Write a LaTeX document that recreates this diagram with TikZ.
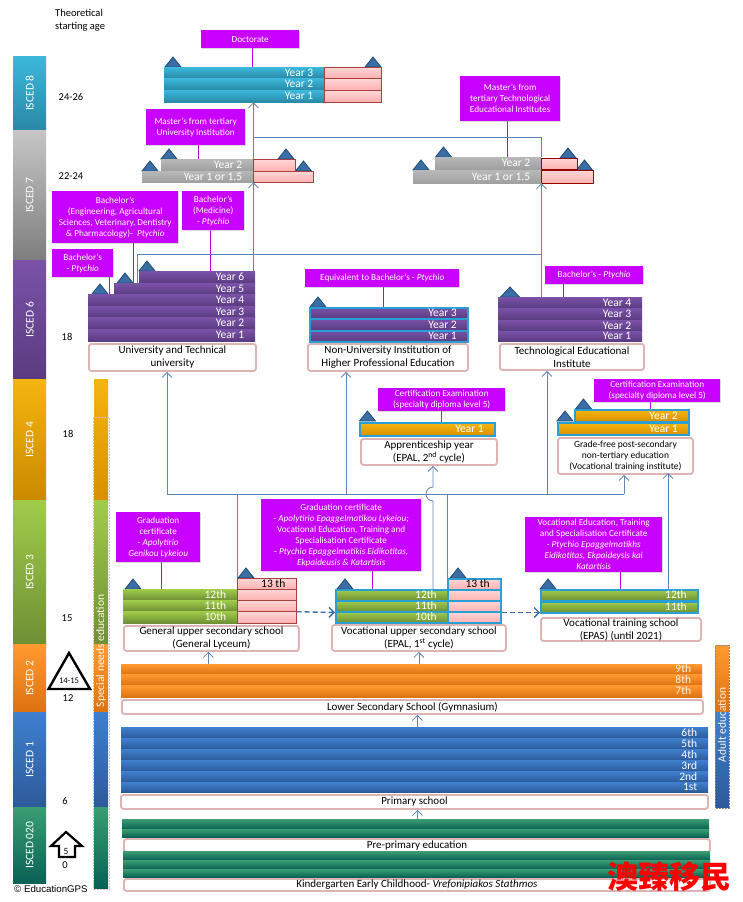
\documentclass[tikz,border=0pt]{standalone}
\usepackage{fontspec}
\usepackage{graphicx}
\usepackage{tikz}
\usetikzlibrary{arrows.meta,shadows}
\setmainfont{Carlito}
\newfontfamily\cjkfont{Noto Sans CJK SC}
\newfontfamily\gpsfont{Liberation Sans}
\definecolor{certmagenta}{HTML}{C800FF}
\definecolor{certstem}{HTML}{C000E8}
\definecolor{flowblue}{HTML}{5F85B8}
\definecolor{flowdeep}{HTML}{3D6AA8}
\definecolor{labelpink}{HTML}{DDB3B3}
\definecolor{outlineblue}{HTML}{2A9FD6}
\definecolor{capedge}{HTML}{1F4E79}
\definecolor{capinner}{HTML}{3A6EA5}
\definecolor{tealhi}{HTML}{3BB8DC}
\definecolor{teallo}{HTML}{2A88A6}
\definecolor{grayhi}{HTML}{C6C6C6}
\definecolor{graylo}{HTML}{7E7E7E}
\definecolor{graybarhi}{HTML}{B8B8B8}
\definecolor{graybarlo}{HTML}{A0A0A0}
\definecolor{plumhi}{HTML}{7A52A8}
\definecolor{plumlo}{HTML}{5A3B80}
\definecolor{amberhi}{HTML}{F5B50F}
\definecolor{amberlo}{HTML}{C98A00}
\definecolor{amberbarlo}{HTML}{D89000}
\definecolor{leafhi}{HTML}{A0CC4A}
\definecolor{leaflo}{HTML}{6F8F35}
\definecolor{tanhi}{HTML}{FF9A30}
\definecolor{tanlo}{HTML}{DC7210}
\definecolor{skyhi}{HTML}{3F80CF}
\definecolor{skylo}{HTML}{2D5A99}
\definecolor{pinehi}{HTML}{3A9E72}
\definecolor{pinelo}{HTML}{0A6055}
\definecolor{rosehi}{HTML}{FFD6D6}
\definecolor{roselo}{HTML}{FFB0B0}
\definecolor{roseedge}{HTML}{A84040}
\definecolor{rosedeep}{HTML}{990000}
\definecolor{needsedge}{HTML}{E0BCBC}
\definecolor{adultedge}{HTML}{8A8A70}
\tikzset{
    schoolbar/.style={inner sep=0pt,text=white,font=\fontsize{11.5}{11}\selectfont,text height=7pt,text depth=0pt},
    purplebar/.style={schoolbar,top color=plumhi,bottom color=plumlo},
    tealbar/.style={schoolbar,top color=tealhi,bottom color=teallo},
    graybar/.style={schoolbar,top color=graybarhi,bottom color=graybarlo},
    amberbar/.style={schoolbar,top color=amberhi,bottom color=amberbarlo},
    greenbar/.style={schoolbar,top color=leafhi,bottom color=leaflo},
    orangebar/.style={schoolbar,text=white!90!orange,top color=tanhi,bottom color=tanlo},
    bluebar/.style={schoolbar,top color=skyhi,bottom color=skylo},
    forestbar/.style={schoolbar,top color=pinehi,bottom color=pinelo},
    pinkbar/.style={schoolbar,text=black,top color=rosehi,bottom color=roselo,draw=roseedge,line width=0.7pt},
    deeppink/.style={pinkbar,draw=rosedeep,line width=1pt},
    cyanedge/.style={draw=outlineblue,line width=1.5pt},
    isced/.style={inner sep=0pt,text=white,font=\fontsize{11.5}{11}\selectfont},
    cert/.style={inner sep=0pt,align=center,fill=certmagenta,text=white,font=\fontsize{9.2}{11}\selectfont,
        drop shadow={shadow xshift=1pt,shadow yshift=-1pt,opacity=0.3}},
    schoollabel/.style={inner sep=0pt,align=center,fill=white,draw=labelpink,line width=1.9pt,rounded corners=2.5pt,
        font=\fontsize{11}{13}\selectfont},
    certline/.style={draw=certstem,line width=0.9pt},
    flow/.style={draw=flowblue,line width=0.8pt,>={Straight Barb[length=5pt,width=10pt]}},
    flowdash/.style={draw=flowdeep,line width=1.4pt,dash pattern=on 5pt off 3pt,>={Straight Barb[length=5pt,width=10pt]}},
    capfill/.style={draw=capedge,fill=capinner,line width=0.8pt},
    agetext/.style={inner sep=0pt,font=\fontsize{10.5}{13}\selectfont},
    sidetext/.style={inner sep=0pt,rotate=90,text=white!92!orange,font=\fontsize{11.5}{11}\selectfont},
    sideframe/.style={inner sep=0pt,draw=#1,line width=1.3pt,dash pattern=on 2pt off 1pt}
}
\newcommand{\placebox}[7]{%
    \pgfmathsetmacro\boxw{#5-#3}\pgfmathsetmacro\boxh{#6-#4}%
    \node[#1,anchor=north west,minimum width=\boxw pt,minimum height=\boxh pt] (#2) at (#3,#4) {#7};}
\newcommand{\placebar}[7]{%
    \pgfmathsetmacro\boxw{#5-#3}\pgfmathsetmacro\boxh{#6-#4}%
    \node[#1,anchor=north west,minimum width=\boxw pt,minimum height=\boxh pt,text width=\boxw pt,align=flush right] (#2) at (#3,#4) {#7\hspace*{11pt}};}
\newcommand{\captri}[3][8]{\draw[capfill] (#2-#1,#3) -- (#2,#3-10) -- (#2+#1,#3) -- cycle;}
\begin{document}
\begin{tikzpicture}[x=1pt,y=-1pt]
        \useasboundingbox (0,0) rectangle (743,902);
        % ISCED column
        \placebox{isced,top color=tealhi,bottom color=teallo}{isced8}{13}{56}{46}{130}{\rotatebox{90}{ISCED 8}}
        \placebox{isced,top color=grayhi,bottom color=graylo}{isced7}{13}{130}{46}{260}{\rotatebox{90}{ISCED 7}}
        \placebox{isced,top color=plumhi,bottom color=plumlo}{isced6}{13}{260}{46}{379}{\rotatebox{90}{ISCED 6}}
        \placebox{isced,top color=amberhi,bottom color=amberlo}{isced4}{13}{379}{46}{500}{\rotatebox{90}{ISCED 4}}
        \placebox{isced,top color=leafhi,bottom color=leaflo}{isced3}{13}{500}{46}{644}{\rotatebox{90}{ISCED 3}}
        \placebox{isced,top color=tanhi,bottom color=tanlo}{isced2}{13}{644}{46}{712}{\rotatebox{90}{ISCED 2}}
        \placebox{isced,top color=skyhi,bottom color=skylo}{isced1}{13}{712}{46}{807}{\rotatebox{90}{ISCED 1}}
        \placebox{isced,top color=pinehi,bottom color=pinelo}{isced020}{13}{807}{46}{883}{\rotatebox{90}{ISCED 020}}
        % Ages
        \node[agetext,anchor=north west,align=left] (agehead) at (55,9) {Theoretical\\starting age};
        \node[agetext] (age8) at (71,97) {24-26};
        \node[agetext] (age7) at (71,176) {22-24};
        \node[agetext] (age6) at (67,337) {18};
        \node[agetext] (age4) at (68,434) {18};
        \node[agetext] (age3) at (67,618) {15};
        \node[agetext] (age2) at (68,698) {12};
        \node[agetext] (age1) at (65,801) {6};
        \node[agetext] (age0) at (65,865) {0};
        \draw[line width=2.4pt] (69,653) -- (48.5,689) -- (90,689) -- cycle;
        \node[agetext,font=\fontsize{8.5}{9}\selectfont] (age1415) at (69,681) {14-15};
        \draw[line width=2.2pt] (66,832) -- (51,846) -- (59,846) -- (59,857) -- (75,857) -- (75,846) -- (82,846) -- cycle;
        \node[agetext,font=\fontsize{9.5}{9}\selectfont] (age5) at (66,851) {5};
        \node[inner sep=0pt,anchor=west,font=\gpsfont\fontsize{9.7}{10}\selectfont] (gps) at (14,889) {© EducationGPS};
        % Special needs bar
        \placebox{inner sep=0pt,top color=amberhi,bottom color=amberbarlo}{needs4}{94}{379}{108}{500}{}
        \placebox{inner sep=0pt,top color=leafhi,bottom color=leaflo}{needs3}{94}{500}{108}{644}{}
        \placebox{inner sep=0pt,top color=tanhi,bottom color=tanlo}{needs2}{94}{644}{108}{712}{}
        \placebox{inner sep=0pt,top color=skyhi,bottom color=skylo}{needs1}{94}{712}{108}{807}{}
        \placebox{inner sep=0pt,top color=pinehi,bottom color=pinelo}{needs0}{94}{807}{108}{888}{}
        \placebox{sideframe=needsedge}{needsframe}{93}{417}{109}{889}{}
        \node[sidetext] (needstext) at (101,651) {Special needs education};
        % Adult bar
        \placebox{inner sep=0pt,top color=tanhi,bottom color=tanlo}{adult2}{715}{645}{729}{712}{}
        \placebox{inner sep=0pt,top color=skyhi,bottom color=skylo}{adult1}{715}{712}{729}{807}{}
        \placebox{sideframe=adultedge}{adultframe}{715}{645}{729}{808}{}
        \node[sidetext] (adulttext) at (722,725) {Adult education};
        % Doctorate
        \captri{173}{67} \captri{373}{67}
        \placebar{tealbar}{phd3}{164}{67}{324}{78}{Year 3}
        \placebar{tealbar}{phd2}{164}{78}{324}{90}{Year 2}
        \placebar{tealbar}{phd1}{164}{90}{324}{102}{Year 1}
        \placebox{pinkbar}{phdp3}{324}{67}{381}{78}{}
        \placebox{pinkbar}{phdp2}{324}{78}{381}{90}{}
        \placebox{pinkbar}{phdp1}{324}{90}{381}{102}{}
        \placebox{cert}{phdbox}{201}{30}{299}{48}{Doctorate}
        \draw[certline] ([xshift=2.5pt]phdbox.south) -- ([xshift=2.5pt]phdbox.south |- phd3.north);
        % Master university
        \captri{169}{159} \captri{150}{171} \captri{286}{159} \captri{303.5}{171}
        \placebar{graybar}{um2}{161}{159}{253}{170}{Year 2}
        \placebar{graybar}{um1}{142}{171}{253}{182}{Year 1 or 1.5}
        \placebox{pinkbar}{ump2}{253}{159}{295}{171}{}
        \placebox{pinkbar}{ump1}{253}{171}{313}{182}{}
        \placebox{cert}{umbox}{146}{109}{245}{145}{Master’s from tertiary\\University Institution}
        \draw[certline] ([xshift=3pt]umbox.south) -- ([xshift=3pt]umbox.south |- um2.north);
        % Master technological
        \captri{443.5}{157} \captri{421}{170} \captri{568}{158} \captri{584.5}{170}
        \placebar{graybar}{tm2}{435}{157}{541}{169}{Year 2}
        \placebar{graybar}{tm1}{413}{170}{541}{183}{Year 1 or 1.5}
        \placebox{deeppink}{tmp2}{541}{158}{577}{169}{}
        \placebox{deeppink}{tmp1}{541}{170}{593}{183}{}
        \placebox{cert}{tmbox}{460}{76}{560}{121}{Master’s from\\tertiary Technological\\Educational Institutes}
        \draw[certline] ([xshift=-2.5pt]tmbox.south) -- ([xshift=-2.5pt]tmbox.south |- tm2.north);
        % University
        \captri{100}{294} \captri{125}{283} \captri{147}{271}
        \placebar{purplebar}{uy6}{139}{271}{255}{283}{Year 6}
        \placebar{purplebar}{uy5}{114}{283}{255}{294}{Year 5}
        \placebar{purplebar}{uy4}{88}{294}{255}{306}{Year 4}
        \placebar{purplebar}{uy3}{88}{306}{255}{317}{Year 3}
        \placebar{purplebar}{uy2}{88}{317}{255}{329}{Year 2}
        \placebar{purplebar}{uy1}{88}{329}{255}{341}{Year 1}
        \placebox{schoollabel}{ulabel}{88}{343}{255}{370}{University and Technical\\university}
        \placebox{cert}{ubox1}{52}{249}{113}{277}{Bachelor’s\\- \textit{Ptychio}}
        \placebox{cert}{ubox2}{52}{191}{178}{243}{Bachelor’s\\(Engineering, Agricultural\\Sciences, Veterinary, Dentistry\\\& Pharmacology)-\ \ \textit{Ptychio}}
        \placebox{cert}{ubox3}{182}{191}{244}{230}{Bachelor’s\\(Medicine)\\- \textit{Ptychio}}
        \draw[certline] ([xshift=27pt]ubox1.south) -- ([xshift=27pt]ubox1.south |- uy4.north);
        \draw[certline] ([xshift=18.5pt]ubox2.south) -- ([xshift=18.5pt]ubox2.south |- uy5.north);
        \draw[certline] ([xshift=-2.5pt]ubox3.south) -- ([xshift=-2.5pt]ubox3.south |- uy6.north);
        % Non-university
        \captri{318}{307}
        \placebar{purplebar,cyanedge}{ny3}{309}{307}{467}{318}{Year 3}
        \placebar{purplebar,cyanedge}{ny2}{309}{318}{467}{330}{Year 2}
        \placebar{purplebar,cyanedge}{ny1}{309}{330}{467}{341}{Year 1}
        \placebox{schoollabel}{nlabel}{307}{343}{467}{370}{Non-University Institution of\\Higher Professional Education}
        \placebox{cert}{nbox}{305}{269}{459}{287}{Equivalent to Bachelor’s - \textit{Ptychio}}
        \draw[certline] ([xshift=1.5pt]nbox.south) -- ([xshift=1.5pt]nbox.south |- ny3.north);
        % Technological
        \captri[9.5]{510}{297}
        \placebar{purplebar}{ty4}{498}{297}{642}{308}{Year 4}
        \placebar{purplebar}{ty3}{498}{308}{642}{320}{Year 3}
        \placebar{purplebar}{ty2}{498}{320}{642}{331}{Year 2}
        \placebar{purplebar}{ty1}{498}{331}{642}{341}{Year 1}
        \placebox{schoollabel}{tlabel}{499}{343}{643}{369}{Technological Educational\\Institute}
        \placebox{cert}{tbox}{545}{266}{643}{284}{Bachelor’s - \textit{Ptychio}}
        \draw[certline] ([xshift=-30.5pt]tbox.south) -- ([xshift=-30.5pt]tbox.south |- ty4.north);
        % Apprenticeship
        \captri{367.5}{421}
        \placebar{amberbar,cyanedge}{ay1}{359}{422}{494}{435}{Year 1}
        \placebox{schoollabel}{alabel}{360}{438}{496}{464}{Apprenticeship year\\(EPAL, 2\textsuperscript{nd} cycle)}
        \placebox{cert}{abox}{378}{388}{505}{411}{Certification Examination\\(specialty diploma level 5)}
        \draw[certline] (abox.south) -- (abox.south |- ay1.north);
        % Post-secondary
        \captri{583.5}{409} \captri{565}{421}
        \placebar{amberbar,cyanedge}{fy2}{574}{409}{688}{421}{Year 2}
        \placebar{amberbar,cyanedge}{fy1}{557}{422}{688}{434}{Year 1}
        \placebox{schoollabel,font=\fontsize{9.5}{11}\selectfont}{flabel}{557}{437}{692}{473}{Grade-free post-secondary\\non-tertiary education\\(Vocational training institute)}
        \placebox{cert}{fbox}{594}{379}{720}{402}{Certification Examination\\(specialty diploma level 5)}
        \draw[certline] ([xshift=-7pt]fbox.south) -- ([xshift=-7pt]fbox.south |- fy2.north);
        % General upper secondary
        \captri{133}{589} \captri{246}{578}
        \placebar{greenbar}{gy12}{123}{589}{237}{600}{12th}
        \placebar{greenbar}{gy11}{123}{600}{237}{611}{11th}
        \placebar{greenbar}{gy10}{123}{611}{237}{623}{10th}
        \placebar{pinkbar}{gp13}{237}{578}{296}{589}{13 th}
        \placebox{pinkbar}{gp12}{237}{589}{296}{600}{}
        \placebox{pinkbar}{gp11}{237}{600}{296}{611}{}
        \placebox{pinkbar}{gp10}{237}{611}{296}{623}{}
        \placebox{schoollabel}{glabel}{123}{625}{298}{650}{General upper secondary school\\(General Lyceum)}
        \placebox{cert}{gbox}{116}{512}{200}{562}{Graduation\\certificate\\- \textit{Apolytirio}\\\textit{Genikou Lykeiou}}
        \draw[certline] ([xshift=3.5pt]gbox.south) -- ([xshift=3.5pt]gbox.south |- gy12.north);
        % Vocational upper secondary
        \captri{345}{589} \captri{458}{578}
        \placebar{greenbar,cyanedge}{vy12}{335}{589}{447}{600}{12th}
        \placebar{greenbar,cyanedge}{vy11}{335}{600}{447}{611}{11th}
        \placebar{greenbar,cyanedge}{vy10}{335}{611}{447}{622}{10th}
        \placebar{pinkbar,cyanedge}{vp13}{447}{578}{500}{589}{13 th}
        \placebox{pinkbar,cyanedge}{vp12}{447}{589}{500}{600}{}
        \placebox{pinkbar,cyanedge}{vp11}{447}{600}{500}{611}{}
        \placebox{pinkbar,cyanedge}{vp10}{447}{611}{500}{622}{}
        \placebox{schoollabel}{vlabel}{331}{624}{505}{650}{Vocational upper secondary school\\(EPAL, 1\textsuperscript{st} cycle)}
        \placebox{cert}{vbox}{261}{499}{421}{571}{Graduation certificate\\- \textit{Apolytirio Epaggelmatikou Lykeiou;}\\Vocational Education, Training and\\Specialisation Certificate\\- \textit{Ptychio Epaggelmatikis Eidikotitas,}\\\textit{Ekpaideusis \& Katartisis}}
        \draw[certline] ([xshift=31pt]vbox.south) -- ([xshift=31pt]vbox.south |- vy12.north);
        % Vocational training school
        \captri{548}{589}
        \placebar{greenbar,cyanedge}{ey12}{540}{589}{697}{600}{12th}
        \placebar{greenbar,cyanedge}{ey11}{540}{601}{697}{612}{11th}
        \placebox{schoollabel}{elabel}{540}{617}{700}{640}{Vocational training school\\(EPAS) (until 2021)}
        \placebox{cert}{ebox}{525}{517}{662}{572}{Vocational Education, Training\\and Specialisation Certificate\\- \textit{Ptychio Epaggelmatikhs}\\\textit{Eidikotitas, Ekpaideysis kai}\\\textit{Katartisis}}
        \draw[certline] ([xshift=26.5pt]ebox.south) -- ([xshift=26.5pt]ebox.south |- ey12.north);
        % Lower secondary
        \placebar{orangebar}{ly9}{121}{664}{702}{674}{9th}
        \placebar{orangebar}{ly8}{121}{674}{702}{685}{8th}
        \placebar{orangebar}{ly7}{121}{685}{702}{697}{7th}
        \placebox{schoollabel}{llabel}{121}{699}{702}{713}{Lower Secondary School (Gymnasium)}
        % Primary
        \placebar{bluebar}{py6}{121}{727}{708}{738}{6th}
        \placebar{bluebar}{py5}{121}{738}{708}{749}{5th}
        \placebar{bluebar}{py4}{121}{749}{708}{760}{4th}
        \placebar{bluebar}{py3}{121}{760}{708}{771}{3rd}
        \placebar{bluebar}{py2}{121}{771}{708}{782}{2nd}
        \placebar{bluebar}{py1}{121}{782}{708}{792}{1st}
        \placebox{schoollabel}{plabel}{120}{794}{707}{808}{Primary school}
        % Pre-primary
        \placebox{forestbar}{pre2}{122}{819}{709}{829}{}
        \placebox{forestbar}{pre1}{122}{829}{709}{837}{}
        \placebox{schoollabel}{prelabel}{123}{838}{709}{851}{Pre-primary education}
        \placebox{forestbar}{kin3}{123}{851}{710}{860}{}
        \placebox{forestbar}{kin2}{123}{860}{710}{869}{}
        \placebox{forestbar}{kin1}{123}{869}{710}{877}{}
        \placebox{schoollabel}{kinlabel}{123}{878}{709}{890}{Kindergarten Early Childhood- \textit{Vrefonipiakos Stathmos}}
        % Tertiary connectors
        \coordinate (joinm) at (253,137);
        \coordinate (joinb) at (137,254);
        \draw[flow,->] (uy6.north -| um1.south east) -- (um1.south east);
        \draw[flow,->] (um2.north east) -- (um2.north east |- phd1.south);
        \draw[flow] (tm2.north east) |- (joinm);
        \draw[flow] (uy5.north -| joinb) -- (joinb) -| (tm1.south east);
        \draw[flow,->] (ty4.north -| tm1.south east) -- (tm1.south east);
        % Upper secondary connectors
        \coordinate (hleft) at (167,494);
        \coordinate (hnon) at (346,494);
        \coordinate (hop) at (433,494);
        \coordinate (htech) at (547,494);
        \coordinate (hright) at (624,494);
        \coordinate (epasup) at (668,473);
        \draw[flow] (hleft) -- (hright);
        \draw[flow,->] (hleft) -- (hleft |- ulabel.south);
        \draw[flow,->] (hnon) -- (hnon |- nlabel.south);
        \draw[flow,->] (htech) -- (htech |- tlabel.south);
        \draw[flow,->] (hright) -- (hright |- flabel.south);
        \draw[flow] (gp13.north west) -- (gp13.north west |- hleft);
        \draw[flow] (vp13.north west) -- (vp13.north west |- hleft);
        \draw[flow,->] (vy12.north -| hop) -- ([yshift=-7pt]hop) arc[start angle=270,end angle=90,radius=7pt] -- (hop |- alabel.south);
        \draw[flow,->] (ey12.north -| epasup) -- (epasup);
        \draw[flowdash,->] (gp11.south east) -- (vy11.south west);
        \draw[flowdash,->] (vp11.south east) -- (vp11.south east -| ey11.west);
        % Lower connectors
        \draw[flow,->] ([xshift=-3pt]glabel.south |- ly9.north) -- ([xshift=-3pt]glabel.south);
        \draw[flow,->] (vlabel.south |- ly9.north) -- (vlabel.south);
        \draw[flow,->] ([xshift=5pt]llabel.south |- py6.north) -- ([xshift=5pt]llabel.south);
        \draw[flow,->] ([xshift=3pt]plabel.south |- pre2.north) -- ([xshift=3pt]plabel.south);
        % Watermark
        \node[inner sep=0pt,text=red,font=\cjkfont\bfseries\fontsize{31}{31}\selectfont] (mark) at (669,877) {澳臻移民};
    \end{tikzpicture}
\end{document}
